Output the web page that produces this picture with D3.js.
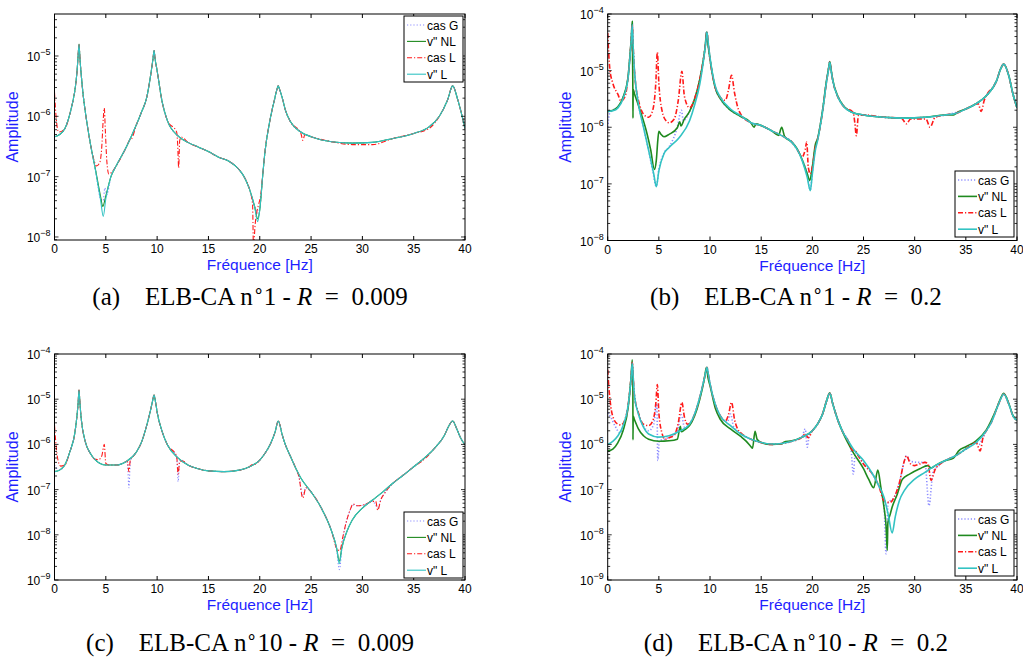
<!DOCTYPE html>
<html><head><meta charset="utf-8">
<script src="https://cdn.jsdelivr.net/npm/d3@7"></script>
<style>body{margin:0;background:#fff} svg{display:block}</style>
</head><body><svg id="chart" width="1023" height="657"></svg>
<script>
// ---------- DATA ----------
const seriesNames = ['cas G', 'v" NL', 'cas L', 'v" L'];
const xTickValues = [0, 5, 10, 15, 20, 25, 30, 35, 40];
const yTickExpA = [-8, -7, -6, -5];
const yTickExpB = [-8, -7, -6, -5, -4];
const yTickExpC = [-9, -8, -7, -6, -5, -4];
const yTickExpD = [-9, -8, -7, -6, -5, -4];
const captionTags = ['(a)', '(b)', '(c)', '(d)'];
const captionCase = ['1', '1', '10', '10'];
const captionR = ['0.009', '0.2', '0.009', '0.2'];
const xLabel = 'Fréquence [Hz]';
const yLabel = 'Amplitude';

// Panel (a)  ELB-CA n°1, R = 0.009   [frequency Hz, amplitude]
const a_vL = [[0,4.6e-7],[0.5,5.0e-7],[1,6.2e-7],[1.5,1.1e-6],[1.8,1.8e-6],[2,2.8e-6],[2.2,5.7e-6],[2.3,1.0e-5],[2.39,1.55e-5],[2.48,9e-6],[2.6,5.0e-6],[2.8,2.2e-6],[3,1.2e-6],[3.5,3.5e-7],[4,1.26e-7],[4.5,4.0e-8],[4.75,2.2e-8],[5,4.3e-8],[5.5,1.0e-7],[6,1.5e-7],[7,3.1e-7],[8,7.4e-7],[8.5,1.2e-6],[9,2.1e-6],[9.4,5.2e-6],[9.6,9.0e-6],[9.7,1.23e-5],[9.8,9.0e-6],[10,5.7e-6],[10.5,1.7e-6],[11,8.5e-7],[12,4.8e-7],[13,3.7e-7],[14,3.1e-7],[15,2.6e-7],[16,2.1e-7],[17,1.8e-7],[18,1.3e-7],[18.5,9.8e-8],[19,6.2e-8],[19.5,3.2e-8],[19.8,1.8e-8],[20,2.8e-8],[20.3,1.1e-7],[20.5,2.5e-7],[21,8.7e-7],[21.5,2.1e-6],[21.7,2.9e-6],[21.8,3.2e-6],[21.9,2.9e-6],[22.2,2.0e-6],[22.5,1.27e-6],[23,8.1e-7],[24,5.5e-7],[25,4.6e-7],[27,3.8e-7],[29,3.6e-7],[31,3.7e-7],[33,4.3e-7],[35,5.2e-7],[36.5,6.7e-7],[37.5,1.0e-6],[38.3,1.87e-6],[38.8,3.2e-6],[39.3,1.87e-6],[40,6.3e-7]];
const a_vNL = [[0,4.6e-7],[0.5,5.0e-7],[1,6.2e-7],[1.5,1.1e-6],[1.8,1.8e-6],[2,2.8e-6],[2.2,5.7e-6],[2.3,1.0e-5],[2.39,1.58e-5],[2.48,9e-6],[2.6,5.0e-6],[2.8,2.2e-6],[3,1.2e-6],[3.5,3.5e-7],[4,1.3e-7],[4.5,4.6e-8],[4.7,3.2e-8],[5,4.8e-8],[5.5,1.0e-7],[6,1.5e-7],[7,3.1e-7],[8,7.4e-7],[8.5,1.2e-6],[9,2.1e-6],[9.4,5.2e-6],[9.6,9.0e-6],[9.7,1.23e-5],[9.8,9.0e-6],[10,5.7e-6],[10.5,1.7e-6],[11,8.5e-7],[12,4.8e-7],[13,3.7e-7],[14,3.1e-7],[15,2.6e-7],[16,2.1e-7],[17,1.8e-7],[18,1.3e-7],[18.5,9.8e-8],[19,6.2e-8],[19.5,3.2e-8],[19.8,2.0e-8],[20,2.8e-8],[20.3,1.1e-7],[20.5,2.5e-7],[21,8.7e-7],[21.5,2.1e-6],[21.7,2.9e-6],[21.8,3.2e-6],[21.9,2.9e-6],[22.2,2.0e-6],[22.5,1.27e-6],[23,8.1e-7],[24,5.5e-7],[25,4.6e-7],[27,3.8e-7],[29,3.6e-7],[31,3.7e-7],[33,4.3e-7],[35,5.2e-7],[36.5,6.7e-7],[37.5,1.0e-6],[38.3,1.87e-6],[38.8,3.2e-6],[39.3,1.87e-6],[40,6.3e-7]];
const a_casG = [[0,4.6e-7],[0.5,5.0e-7],[1,6.2e-7],[1.5,1.1e-6],[1.8,1.8e-6],[2,2.8e-6],[2.2,5.7e-6],[2.3,1.0e-5],[2.39,1.55e-5],[2.48,9e-6],[2.6,5.0e-6],[2.8,2.2e-6],[3,1.2e-6],[3.5,3.5e-7],[4,1.26e-7],[4.5,4.2e-8],[4.75,4.0e-8],[4.9,6.5e-8],[5.1,5.0e-8],[5.5,1.0e-7],[6,1.5e-7],[7,3.1e-7],[8,7.4e-7],[8.5,1.2e-6],[9,2.1e-6],[9.4,5.2e-6],[9.6,9.0e-6],[9.7,1.23e-5],[9.8,9.0e-6],[10,5.7e-6],[10.5,1.7e-6],[11,8.5e-7],[12,4.8e-7],[13,3.7e-7],[14,3.1e-7],[15,2.6e-7],[16,2.1e-7],[17,1.8e-7],[18,1.3e-7],[18.5,9.8e-8],[19,6.2e-8],[19.5,3.2e-8],[19.8,2.5e-8],[20,3.0e-8],[20.3,1.1e-7],[20.5,2.5e-7],[21,8.7e-7],[21.5,2.1e-6],[21.7,2.9e-6],[21.8,3.2e-6],[21.9,2.9e-6],[22.2,2.0e-6],[22.5,1.27e-6],[23,8.1e-7],[24,5.5e-7],[25,4.6e-7],[27,3.8e-7],[29,3.6e-7],[31,3.7e-7],[33,4.3e-7],[35,5.2e-7],[36.5,6.7e-7],[37.5,1.0e-6],[38.3,1.87e-6],[38.8,3.2e-6],[39.3,1.87e-6],[40,6.3e-7]];
const a_casL = [[0,2.5e-6],[0.15,1.0e-6],[0.4,5.5e-7],[1,6.2e-7],[1.5,1.1e-6],[1.8,1.8e-6],[2,2.8e-6],[2.2,5.7e-6],[2.3,1.0e-5],[2.39,1.55e-5],[2.48,9e-6],[2.6,5.0e-6],[2.8,2.2e-6],[3,1.2e-6],[3.5,3.5e-7],[3.8,2.0e-7],[4.1,1.5e-7],[4.4,1.7e-7],[4.6,3.0e-7],[4.75,9e-7],[4.85,1.37e-6],[4.95,6e-7],[5.1,1.8e-7],[5.3,1.1e-7],[5.6,1.2e-7],[6,1.5e-7],[7,3.1e-7],[7.3,4.0e-7],[7.5,4.2e-7],[8,7.4e-7],[8.5,1.2e-6],[9,2.1e-6],[9.4,5.2e-6],[9.6,9.0e-6],[9.7,1.23e-5],[9.8,9.0e-6],[10,5.7e-6],[10.5,1.7e-6],[11,8.5e-7],[11.9,5.5e-7],[12,3.5e-7],[12.1,1.4e-7],[12.2,4.0e-7],[12.4,4.5e-7],[13,3.7e-7],[14,3.1e-7],[15,2.6e-7],[16,2.1e-7],[17,1.8e-7],[18,1.3e-7],[18.5,9.8e-8],[19,6.2e-8],[19.3,3.5e-8],[19.4,5e-9],[19.5,1.2e-8],[19.7,2.5e-8],[19.9,3.5e-8],[20.1,5e-8],[20.3,1.1e-7],[20.5,2.5e-7],[21,8.7e-7],[21.5,2.1e-6],[21.7,2.9e-6],[21.8,3.2e-6],[21.9,2.9e-6],[22.2,2.0e-6],[22.5,1.27e-6],[23,8.1e-7],[24,5.3e-7],[24.2,4.0e-7],[24.4,5.0e-7],[25,4.6e-7],[27,3.8e-7],[29,3.4e-7],[31,3.4e-7],[33,4.3e-7],[35,5.2e-7],[36.5,6.3e-7],[37.5,1.0e-6],[38.3,1.87e-6],[38.8,3.2e-6],[39.3,1.87e-6],[40,6.3e-7]];

// Panel (b)  ELB-CA n°1, R = 0.2
const b_vL = [[0,1.9e-6],[0.5,1.95e-6],[1,2.2e-6],[1.5,3.2e-6],[2,7.6e-6],[2.2,1.96e-5],[2.3,3.3e-5],[2.4,6.5e-5],[2.5,2.4e-5],[2.6,1.1e-5],[2.7,6.6e-6],[3,2.6e-6],[3.5,1.0e-6],[4,3.9e-7],[4.5,1.5e-7],[4.75,8.9e-8],[5,1.7e-7],[5.5,3.4e-7],[6,4.4e-7],[7,6.6e-7],[8,1.3e-6],[8.5,2.5e-6],[9,5.8e-6],[9.4,1.7e-5],[9.55,2.8e-5],[9.7,4.8e-5],[9.85,2.8e-5],[10,1.7e-5],[10.5,5.4e-6],[11,3.4e-6],[12,2.1e-6],[13,1.6e-6],[14,1.2e-6],[15,1.07e-6],[16,8.7e-7],[17,7.1e-7],[18,5.4e-7],[18.5,4.1e-7],[19,2.6e-7],[19.5,1.3e-7],[19.8,7.6e-8],[20,1.5e-7],[20.3,4.0e-7],[20.5,5.7e-7],[21,1.9e-6],[21.4,6.6e-6],[21.55,9.5e-6],[21.7,1.4e-5],[21.85,9.5e-6],[22,6.6e-6],[22.5,3.4e-6],[23,2.4e-6],[24,1.8e-6],[25,1.65e-6],[27,1.5e-6],[29,1.45e-6],[31,1.5e-6],[33,1.65e-6],[34,1.75e-6],[35,2.1e-6],[36,2.6e-6],[37,3.6e-6],[38,6.6e-6],[38.4,1.07e-5],[38.7,1.3e-5],[39.2,8.1e-6],[39.6,3.9e-6],[40,2.2e-6]];
const b_vNL = [[0,1.9e-6],[0.5,2.0e-6],[1,2.3e-6],[1.5,3.4e-6],[2,8.0e-6],[2.2,2.1e-5],[2.3,3.6e-5],[2.4,7.4e-5],[2.46,4.5e-6],[2.47,1.45e-6],[2.49,4.7e-6],[2.6,4.0e-6],[2.86,2.9e-6],[3.2,1.9e-6],[3.85,7.6e-7],[4.2,4.0e-7],[4.56,1.8e-7],[4.75,2.6e-7],[4.9,6.0e-7],[5,8.5e-7],[5.2,7.5e-7],[5.5,6.8e-7],[6,7.5e-7],[6.8,9.8e-7],[7.05,1.25e-6],[7.15,1.05e-6],[7.5,1.4e-6],[8,1.9e-6],[8.5,3.2e-6],[9,7.0e-6],[9.4,1.8e-5],[9.55,2.9e-5],[9.65,4.8e-5],[9.8,2.9e-5],[10,1.6e-5],[10.5,5.0e-6],[11,3.2e-6],[12,2.0e-6],[13,1.55e-6],[14,1.2e-6],[14.3,1.0e-6],[14.5,1.15e-6],[15,1.07e-6],[16,8.7e-7],[16.7,7.2e-7],[17,1.0e-6],[17.3,6.8e-7],[18,5.5e-7],[18.5,4.2e-7],[19,2.7e-7],[19.5,1.5e-7],[19.75,1.15e-7],[20,2.0e-7],[20.3,5.0e-7],[20.5,6.2e-7],[21,2.0e-6],[21.4,7.0e-6],[21.55,1.0e-5],[21.7,1.45e-5],[21.85,1.0e-5],[22,6.8e-6],[22.5,3.5e-6],[23,2.45e-6],[24,1.8e-6],[25,1.65e-6],[27,1.5e-6],[29,1.45e-6],[31,1.5e-6],[33,1.65e-6],[33.8,1.65e-6],[34.2,1.85e-6],[35,2.1e-6],[36,2.6e-6],[37,3.6e-6],[38,6.6e-6],[38.4,1.07e-5],[38.7,1.3e-5],[39.2,8.1e-6],[39.6,3.9e-6],[40,2.2e-6]];
const b_casG = [[0,1.0e-6],[0.2,1.8e-6],[0.5,2.0e-6],[1,2.3e-6],[1.5,3.4e-6],[2,8.0e-6],[2.2,2.1e-5],[2.3,3.6e-5],[2.4,7.0e-5],[2.5,2.4e-5],[2.6,1.1e-5],[2.7,6.6e-6],[3,2.6e-6],[3.5,1.0e-6],[4,3.9e-7],[4.4,1.7e-7],[4.75,9e-8],[5,1.8e-7],[5.5,3.5e-7],[6,4.5e-7],[6.8,1.0e-6],[7.2,2.0e-6],[7.4,1.3e-6],[8,1.9e-6],[8.5,3.2e-6],[9,7.0e-6],[9.4,1.8e-5],[9.55,2.9e-5],[9.65,4.8e-5],[9.8,2.9e-5],[10,1.6e-5],[10.5,5.0e-6],[11,3.2e-6],[12,2.0e-6],[13,1.55e-6],[14,1.2e-6],[15,1.07e-6],[16,8.7e-7],[17,7.1e-7],[18,5.5e-7],[18.5,4.2e-7],[19,2.7e-7],[19.5,1.5e-7],[19.8,7.8e-8],[20,1.6e-7],[20.3,4.5e-7],[20.5,6.0e-7],[21,2.0e-6],[21.4,7.0e-6],[21.55,1.0e-5],[21.7,1.45e-5],[21.85,1.0e-5],[22,6.8e-6],[22.5,3.5e-6],[23,2.45e-6],[24,1.8e-6],[25,1.65e-6],[27,1.5e-6],[29,1.45e-6],[31,1.5e-6],[33,1.65e-6],[35,2.1e-6],[36,2.6e-6],[37,3.6e-6],[38,6.6e-6],[38.4,1.07e-5],[38.7,1.3e-5],[39.2,8.1e-6],[39.6,3.9e-6],[40,2.2e-6]];
const b_casL = [[0,4.6e-5],[0.2,1.1e-5],[0.5,6.0e-6],[1,3.8e-6],[1.3,2.9e-6],[1.7,3.5e-6],[2,8.0e-6],[2.2,2.0e-5],[2.3,3.4e-5],[2.4,6.5e-5],[2.5,2.4e-5],[2.6,1.1e-5],[2.8,4.5e-6],[3,3.0e-6],[3.5,1.7e-6],[4,1.5e-6],[4.4,2.0e-6],[4.7,6.0e-6],[4.85,2.1e-5],[5,6.0e-6],[5.3,2.0e-6],[5.7,1.3e-6],[6,1.2e-6],[6.5,1.4e-6],[6.9,3.0e-6],[7.25,9.7e-6],[7.5,3.5e-6],[8,2.2e-6],[8.5,3.2e-6],[9,7.0e-6],[9.4,1.8e-5],[9.55,2.9e-5],[9.7,4.8e-5],[9.85,2.8e-5],[10,1.6e-5],[10.5,5.2e-6],[11,3.4e-6],[11.5,3.0e-6],[11.8,4.5e-6],[12.1,8.3e-6],[12.4,4.0e-6],[12.8,2.0e-6],[13,1.7e-6],[14,1.2e-6],[15,1.07e-6],[16,8.7e-7],[17,7.1e-7],[18,5.4e-7],[18.5,4.1e-7],[19,3.0e-7],[19.3,4.0e-7],[19.45,5.5e-7],[19.6,2.0e-7],[19.8,1.5e-7],[20,2.0e-7],[20.3,4.5e-7],[20.5,6.0e-7],[21,1.9e-6],[21.4,6.6e-6],[21.55,9.5e-6],[21.7,1.4e-5],[21.85,9.5e-6],[22,6.6e-6],[22.5,3.4e-6],[23,2.4e-6],[24,1.8e-6],[24.15,1.2e-6],[24.3,7.1e-7],[24.5,1.6e-6],[25,1.65e-6],[27,1.5e-6],[28.7,1.45e-6],[29.2,1.15e-6],[29.6,1.4e-6],[30.5,1.4e-6],[31.1,1.4e-6],[31.5,1.0e-6],[32,1.5e-6],[33,1.65e-6],[34,1.75e-6],[35,2.1e-6],[36.2,2.6e-6],[36.5,1.9e-6],[36.8,3.0e-6],[37,3.6e-6],[38,6.6e-6],[38.4,1.07e-5],[38.7,1.3e-5],[39.2,8.1e-6],[39.6,3.9e-6],[40,2.2e-6]];

// Panel (c)  ELB-CA n°10, R = 0.009
const c_vL = [[0,2.5e-7],[0.5,2.7e-7],[1,3.5e-7],[1.5,6.9e-7],[2,1.9e-6],[2.2,4.5e-6],[2.3,8.0e-6],[2.39,1.6e-5],[2.48,8.0e-6],[2.6,3.8e-6],[3,1.15e-6],[3.5,6.3e-7],[4,4.5e-7],[5,3.5e-7],[6,3.5e-7],[7,4.2e-7],[8,6.9e-7],[8.5,1.15e-6],[9,2.7e-6],[9.4,6.3e-6],[9.55,9.0e-6],[9.7,1.23e-5],[9.85,8.5e-6],[10,5.2e-6],[10.5,1.9e-6],[11,9.8e-7],[12,5.1e-7],[13,3.5e-7],[14,2.9e-7],[15,2.6e-7],[16.5,2.5e-7],[18,2.7e-7],[19,3.2e-7],[20,4.5e-7],[20.5,6.3e-7],[21,9.8e-7],[21.5,1.9e-6],[21.8,3.3e-6],[22.2,1.6e-6],[22.5,9.8e-7],[23,5.4e-7],[23.5,3.0e-7],[24,1.8e-7],[25,8.9e-8],[26,3.9e-8],[27,1.2e-8],[27.5,5.0e-9],[27.75,2.3e-9],[28,5.0e-9],[28.5,1.2e-8],[29,2.1e-8],[30,3.9e-8],[31,5.9e-8],[32,8.9e-8],[33,1.4e-7],[34,2.1e-7],[35,3.2e-7],[36,4.9e-7],[37,8.1e-7],[38,1.6e-6],[38.4,2.5e-6],[38.8,3.3e-6],[39.2,2.2e-6],[39.6,1.35e-6],[40,9.8e-7]];
const c_vNL = [[0,2.5e-7],[0.5,2.7e-7],[1,3.5e-7],[1.5,6.9e-7],[2,1.9e-6],[2.2,4.5e-6],[2.3,8.0e-6],[2.39,1.6e-5],[2.48,8.0e-6],[2.6,3.8e-6],[3,1.15e-6],[3.5,6.3e-7],[4,4.5e-7],[5,3.5e-7],[6,3.5e-7],[7,4.2e-7],[8,6.9e-7],[8.5,1.15e-6],[9,2.7e-6],[9.4,6.3e-6],[9.55,9.0e-6],[9.7,1.23e-5],[9.85,8.5e-6],[10,5.2e-6],[10.5,1.9e-6],[11,9.8e-7],[12,5.1e-7],[13,3.5e-7],[14,2.9e-7],[15,2.6e-7],[16.5,2.5e-7],[18,2.7e-7],[19,3.2e-7],[20,4.5e-7],[20.5,6.3e-7],[21,9.8e-7],[21.5,1.9e-6],[21.8,3.3e-6],[22.2,1.6e-6],[22.5,9.8e-7],[23,5.4e-7],[23.5,3.0e-7],[24,1.8e-7],[25,8.9e-8],[26,3.9e-8],[27,1.2e-8],[27.5,5.0e-9],[27.75,2.6e-9],[28,5.2e-9],[28.5,1.2e-8],[29,2.1e-8],[30,3.9e-8],[31,5.9e-8],[32,8.9e-8],[33,1.4e-7],[34,2.1e-7],[35,3.2e-7],[36,4.9e-7],[37,8.1e-7],[38,1.6e-6],[38.4,2.5e-6],[38.8,3.3e-6],[39.2,2.2e-6],[39.6,1.35e-6],[40,9.8e-7]];
const c_casG = [[0,3.5e-7],[0.2,3.0e-7],[0.5,2.7e-7],[1,3.5e-7],[1.5,6.9e-7],[2,1.9e-6],[2.2,4.5e-6],[2.3,8.0e-6],[2.39,1.6e-5],[2.48,8.0e-6],[2.6,3.8e-6],[3,1.15e-6],[3.5,6.3e-7],[4,4.5e-7],[5,3.5e-7],[6,3.5e-7],[7.1,4.1e-7],[7.25,1.1e-7],[7.4,4.3e-7],[8,6.9e-7],[8.5,1.15e-6],[9,2.7e-6],[9.4,6.3e-6],[9.55,9.0e-6],[9.7,1.23e-5],[9.85,8.5e-6],[10,5.2e-6],[10.5,1.9e-6],[11,9.8e-7],[11.9,5.3e-7],[12.05,1.5e-7],[12.2,4.6e-7],[13,3.5e-7],[14,2.9e-7],[15,2.6e-7],[16.5,2.5e-7],[18,2.7e-7],[19,3.2e-7],[20,4.5e-7],[20.5,6.3e-7],[21,9.8e-7],[21.5,1.9e-6],[21.8,3.3e-6],[22.2,1.6e-6],[22.5,9.8e-7],[23,5.4e-7],[23.5,3.0e-7],[23.8,2.0e-7],[24.2,7.5e-8],[24.5,1.1e-7],[25,8.9e-8],[26,3.9e-8],[27,1.2e-8],[27.5,4.5e-9],[27.75,1.7e-9],[28.1,8.0e-9],[28.4,1.8e-8],[28.8,3.5e-8],[29.1,4.6e-8],[29.5,4.4e-8],[30,4.5e-8],[30.5,5.0e-8],[31,5.5e-8],[31.5,4.0e-8],[31.8,6.0e-8],[32.2,8.5e-8],[33,1.4e-7],[34,2.1e-7],[35,3.2e-7],[36,4.9e-7],[37,8.1e-7],[38,1.6e-6],[38.4,2.5e-6],[38.8,3.3e-6],[39.2,2.2e-6],[39.6,1.35e-6],[40,9.8e-7]];
const c_casL = [[0,2.7e-6],[0.1,1.3e-6],[0.3,5.0e-7],[0.6,3.3e-7],[1,3.5e-7],[1.5,6.9e-7],[2,1.9e-6],[2.2,4.5e-6],[2.3,8.0e-6],[2.39,1.6e-5],[2.48,8.0e-6],[2.6,3.8e-6],[3,1.15e-6],[3.5,6.3e-7],[3.8,4.9e-7],[4.3,4.6e-7],[4.6,5.5e-7],[4.85,1.0e-6],[5,3.8e-7],[5.3,3.5e-7],[6,3.5e-7],[7,4.2e-7],[7.1,4.3e-7],[7.25,2.5e-7],[7.4,4.7e-7],[7.6,5.2e-7],[8,6.9e-7],[8.5,1.15e-6],[9,2.7e-6],[9.4,6.3e-6],[9.55,9.0e-6],[9.7,1.23e-5],[9.85,8.5e-6],[10,5.2e-6],[10.5,1.9e-6],[11,9.8e-7],[11.9,5.5e-7],[12.05,2.2e-7],[12.2,4.2e-7],[12.5,4.3e-7],[13,3.5e-7],[14,2.9e-7],[15,2.6e-7],[16.5,2.5e-7],[18,2.7e-7],[19,3.2e-7],[19.3,3.6e-7],[19.5,3.6e-7],[20,4.5e-7],[20.5,6.3e-7],[21,9.8e-7],[21.5,1.9e-6],[21.8,3.3e-6],[22.2,1.6e-6],[22.5,9.8e-7],[23,5.4e-7],[23.5,3.0e-7],[23.8,2.0e-7],[24.2,6.5e-8],[24.5,1.1e-7],[24.8,1.0e-7],[25,8.9e-8],[26,3.9e-8],[27,1.2e-8],[27.5,5.0e-9],[27.8,4.5e-9],[28.1,9.0e-9],[28.4,1.8e-8],[28.8,3.5e-8],[29.1,4.8e-8],[29.5,4.4e-8],[30,4.5e-8],[30.5,5.0e-8],[31,5.5e-8],[31.3,5.5e-8],[31.5,3.5e-8],[31.8,6.0e-8],[32.2,8.5e-8],[33,1.4e-7],[34,2.1e-7],[35,3.2e-7],[36,4.6e-7],[37,8.1e-7],[38,1.6e-6],[38.4,2.5e-6],[38.8,3.3e-6],[39.2,2.2e-6],[39.6,1.35e-6],[40,9.8e-7]];

// Panel (d)  ELB-CA n°10, R = 0.2
const d_vL = [[0,1.0e-6],[0.5,1.17e-6],[1,1.55e-6],[1.5,2.6e-6],[2,7.2e-6],[2.2,1.8e-5],[2.3,3.2e-5],[2.4,6.3e-5],[2.5,2.8e-5],[2.6,1.3e-5],[3,4.7e-6],[3.5,2.4e-6],[4,1.7e-6],[5,1.45e-6],[6,1.55e-6],[7,1.95e-6],[8,2.8e-6],[8.5,4.7e-6],[9,1.1e-5],[9.4,2.6e-5],[9.55,3.7e-5],[9.7,5.1e-5],[9.85,3.4e-5],[10,2.2e-5],[10.5,7.8e-6],[11,4.3e-6],[12,2.6e-6],[13,1.7e-6],[14,1.3e-6],[15,1.1e-6],[16,1.02e-6],[17,1.05e-6],[18,1.17e-6],[19,1.45e-6],[20,2.0e-6],[20.5,2.8e-6],[21,4.7e-6],[21.4,9.3e-6],[21.7,1.35e-5],[22,7.8e-6],[22.5,3.4e-6],[23,1.85e-6],[23.5,1.2e-6],[24,7.9e-7],[25,4.4e-7],[26,2.0e-7],[26.5,1.2e-7],[27,6.8e-8],[27.4,2.9e-8],[27.8,1.1e-8],[28.1,2.5e-8],[28.5,5.7e-8],[29,9.6e-8],[30,1.7e-7],[31,2.4e-7],[32,3.4e-7],[33,4.4e-7],[34,5.6e-7],[35,7.9e-7],[36,1.1e-6],[37,2.0e-6],[37.5,3.1e-6],[38,6.0e-6],[38.4,1.0e-5],[38.7,1.3e-5],[39.2,7.8e-6],[39.6,4.3e-6],[40,3.4e-6]];
const d_vNL = [[0,7.1e-7],[0.5,7.9e-7],[1,1.1e-6],[1.5,2.0e-6],[2,6.6e-6],[2.2,1.8e-5],[2.3,3.4e-5],[2.4,7.4e-5],[2.46,2.0e-5],[2.47,1.26e-6],[2.49,4.3e-6],[2.6,3.6e-6],[2.8,2.8e-6],[3,2.2e-6],[3.5,1.55e-6],[4,1.3e-6],[5,1.17e-6],[6,1.2e-6],[6.8,1.3e-6],[7.1,2.5e-6],[7.2,1.9e-6],[7.5,2.1e-6],[8,2.6e-6],[8.5,4.3e-6],[9,1.0e-5],[9.4,2.5e-5],[9.5,3.4e-5],[9.65,5.0e-5],[9.8,3.0e-5],[10,2.0e-5],[10.5,6.5e-6],[11,3.6e-6],[12,2.2e-6],[13,1.5e-6],[13.5,1.2e-6],[14,8.9e-7],[14.15,8.2e-7],[14.4,1.95e-6],[14.6,1.3e-6],[15,1.1e-6],[16,1.0e-6],[17,1.02e-6],[17.2,1.12e-6],[18,1.2e-6],[19,1.45e-6],[20,2.0e-6],[20.5,2.8e-6],[21,4.7e-6],[21.4,9.3e-6],[21.7,1.38e-5],[22,7.8e-6],[22.5,3.4e-6],[23,1.8e-6],[24,6.6e-7],[25,2.9e-7],[25.5,1.7e-7],[26,1.1e-7],[26.4,2.7e-7],[26.7,1.1e-7],[27,4.1e-8],[27.2,1.6e-8],[27.32,4.5e-9],[27.38,1.8e-8],[27.6,2.8e-8],[27.8,4.1e-8],[28.3,7.9e-8],[28.8,1.7e-7],[29.5,2.2e-7],[30.5,2.9e-7],[31.3,3.4e-7],[31.6,3.0e-7],[32,3.4e-7],[33,4.4e-7],[33.8,5.0e-7],[34.3,7.2e-7],[35,8.9e-7],[36,1.2e-6],[37,2.1e-6],[38,6.2e-6],[38.4,1.05e-5],[38.7,1.35e-5],[39.2,8.0e-6],[39.6,4.4e-6],[40,3.4e-6]];
const d_casG = [[0,5.0e-6],[0.3,4.0e-6],[0.7,2.6e-6],[1.2,1.8e-6],[1.6,2.6e-6],[2,7.2e-6],[2.2,1.8e-5],[2.3,3.2e-5],[2.4,6.3e-5],[2.5,2.8e-5],[2.6,1.3e-5],[3,4.8e-6],[3.5,2.5e-6],[4,2.0e-6],[4.5,2.8e-6],[4.8,8.0e-6],[4.9,4.4e-7],[5.05,1.2e-6],[5.5,1.3e-6],[6,1.45e-6],[6.8,2.0e-6],[7.2,4.5e-6],[7.5,2.4e-6],[8,2.8e-6],[8.5,4.7e-6],[9,1.1e-5],[9.4,2.6e-5],[9.55,3.7e-5],[9.7,5.1e-5],[9.85,3.4e-5],[10,2.2e-5],[10.5,7.8e-6],[11,4.3e-6],[11.7,3.2e-6],[12,4.7e-6],[12.3,2.5e-6],[13,1.7e-6],[14,1.3e-6],[15,1.1e-6],[16,1.0e-6],[17,1.05e-6],[18,1.17e-6],[19,1.5e-6],[19.3,2.2e-6],[19.5,8.7e-7],[19.7,1.6e-6],[20,2.0e-6],[20.5,2.8e-6],[21,4.7e-6],[21.4,9.3e-6],[21.7,1.35e-5],[22,7.8e-6],[22.5,3.4e-6],[23,1.85e-6],[23.5,1.2e-6],[23.8,7.0e-7],[24,2.2e-7],[24.2,6.5e-7],[25,3.7e-7],[26,2.0e-7],[26.5,1.2e-7],[27,5.0e-8],[27.2,3.8e-9],[27.4,5.0e-8],[28,6.8e-8],[28.5,1.4e-7],[29,4.4e-7],[29.2,5.6e-7],[29.6,4.2e-7],[30.5,4.0e-7],[31,4.0e-7],[31.4,4.4e-8],[31.8,2.5e-7],[32.3,3.3e-7],[33,4.4e-7],[34,5.6e-7],[35,7.9e-7],[36,1.1e-6],[36.3,1.0e-6],[36.6,1.3e-6],[37,2.0e-6],[37.5,3.1e-6],[38,6.0e-6],[38.4,1.0e-5],[38.7,1.3e-5],[39.2,7.8e-6],[39.6,4.3e-6],[40,3.4e-6]];
const d_casL = [[0,4.5e-5],[0.1,2.0e-5],[0.3,7.0e-6],[0.6,3.6e-6],[1,2.8e-6],[1.3,2.7e-6],[1.7,3.6e-6],[2,7.5e-6],[2.2,1.9e-5],[2.3,3.3e-5],[2.4,6.5e-5],[2.5,2.9e-5],[2.6,1.3e-5],[3,5.0e-6],[3.5,2.8e-6],[4,2.6e-6],[4.4,3.3e-6],[4.7,8.0e-6],[4.85,2.1e-5],[5,5.0e-6],[5.3,1.8e-6],[5.6,1.3e-6],[6,1.4e-6],[6.5,1.6e-6],[6.9,3.0e-6],[7.25,8.5e-6],[7.5,4.0e-6],[7.8,2.8e-6],[8.2,3.3e-6],[8.5,4.7e-6],[9,1.1e-5],[9.4,2.6e-5],[9.55,3.7e-5],[9.7,5.1e-5],[9.85,3.4e-5],[10,2.2e-5],[10.5,7.8e-6],[11,4.3e-6],[11.5,3.3e-6],[11.8,4.5e-6],[12.1,8.5e-6],[12.4,3.5e-6],[12.8,2.0e-6],[13,1.8e-6],[14,1.3e-6],[15,1.1e-6],[16,1.0e-6],[17,1.05e-6],[18,1.17e-6],[19,1.45e-6],[19.3,1.7e-6],[19.6,1.4e-6],[20,2.0e-6],[20.5,2.8e-6],[21,4.7e-6],[21.4,9.3e-6],[21.7,1.35e-5],[22,7.8e-6],[22.5,3.4e-6],[23,1.85e-6],[23.5,1.2e-6],[23.9,7.5e-7],[24.2,7.2e-7],[24.5,5.5e-7],[25,3.7e-7],[26,2.0e-7],[26.5,1.2e-7],[27,5.7e-8],[27.6,5.2e-8],[28,6.8e-8],[28.5,1.4e-7],[29,4.4e-7],[29.2,5.6e-7],[29.6,3.7e-7],[30,3.4e-7],[30.5,3.7e-7],[31,4.0e-7],[31.3,3.7e-7],[31.6,1.6e-7],[32,2.8e-7],[32.5,3.7e-7],[33,4.4e-7],[34,5.6e-7],[35,7.9e-7],[36,1.1e-6],[36.4,7.2e-7],[36.7,1.5e-6],[37,2.0e-6],[37.5,3.1e-6],[38,6.0e-6],[38.4,1.0e-5],[38.7,1.3e-5],[39.2,7.8e-6],[39.6,4.3e-6],[40,3.4e-6]];

// ---------- STYLE / LAYOUT ----------
const colors = ['#8c8cff', '#1f8a1f', '#ff1a1a', '#33c3c3'];
const dashes = ['1.2,2', null, '5,2,1.2,2', null];
const panels = [
  {series:[a_casG,a_vNL,a_casL,a_vL], yExp:yTickExpA, yDom:[10**-8.05, 10**-4.304], box:[54.5,14,465,240], lw:1.1, legend:[404,16], cap:[250,305]},
  {series:[b_casG,b_vNL,b_casL,b_vL], yExp:yTickExpB, yDom:[1e-8, 1e-4], box:[607.7,14,1017,240.5], lw:1.6, legend:[955,171], cap:[796,305]},
  {series:[c_casG,c_vNL,c_casL,c_vL], yExp:yTickExpC, yDom:[1e-9, 1e-4], box:[54.5,354,465,580], lw:1.1, legend:[404,512], cap:[250,651]},
  {series:[d_casG,d_vNL,d_casL,d_vL], yExp:yTickExpD, yDom:[1e-9, 1e-4], box:[607.7,354,1017,580], lw:1.6, legend:[955,510], cap:[796,651]}
];

const svg = d3.select('#chart');
const sans = "'Liberation Sans', Arial, Helvetica, sans-serif";
const serif = "'Liberation Serif', 'Times New Roman', serif";

panels.forEach((p, i) => {
  const [L, T, R, B] = p.box;
  const x = d3.scaleLinear().domain([0, 40]).range([L, R]);
  const y = d3.scaleLog().domain(p.yDom).range([B, T]);
  const g = svg.append('g');
  const clipId = 'clip' + i;
  svg.append('defs').append('clipPath').attr('id', clipId)
    .append('rect').attr('x', L).attr('y', T).attr('width', R - L).attr('height', B - T);

  // lines
  const line = d3.line().x(d => x(d[0])).y(d => y(d[1])).curve(d3.curveMonotoneX);
  const lg = g.append('g').attr('clip-path', `url(#${clipId})`);
  p.series.forEach((s, k) => {
    lg.append('path').attr('d', line(s)).attr('fill', 'none')
      .attr('stroke', colors[k]).attr('stroke-width', p.lw)
      .attr('stroke-dasharray', dashes[k]).attr('stroke-linejoin', 'round');
  });

  // box
  g.append('rect').attr('x', L).attr('y', T).attr('width', R - L).attr('height', B - T)
    .attr('fill', 'none').attr('stroke', '#000').attr('stroke-width', 1);

  // x ticks (bottom & top, inward)
  xTickValues.forEach(v => {
    const px = x(v);
    g.append('line').attr('x1', px).attr('x2', px).attr('y1', B).attr('y2', B - 4).attr('stroke', '#000');
    g.append('line').attr('x1', px).attr('x2', px).attr('y1', T).attr('y2', T + 4).attr('stroke', '#000');
    g.append('text').attr('x', px).attr('y', B + 13).attr('text-anchor', 'middle')
      .attr('font-family', sans).attr('font-size', 12).text(v);
  });

  // y ticks major + minor
  const [e0, e1] = [Math.floor(Math.log10(p.yDom[0])), Math.ceil(Math.log10(p.yDom[1]))];
  for (let e = e0; e <= e1; e++) {
    for (let m = 1; m <= 9; m++) {
      const v = m * 10 ** e;
      if (v < p.yDom[0] * 0.999 || v > p.yDom[1] * 1.001) continue;
      const py = y(v);
      const len = m === 1 ? 4 : 2.5;
      g.append('line').attr('x1', L).attr('x2', L + len).attr('y1', py).attr('y2', py).attr('stroke', '#000').attr('stroke-width', 0.8);
      g.append('line').attr('x1', R).attr('x2', R - len).attr('y1', py).attr('y2', py).attr('stroke', '#000').attr('stroke-width', 0.8);
    }
  }
  p.yExp.forEach(e => {
    const py = y(10 ** e);
    const t = g.append('text').attr('x', L - 4).attr('y', py + 5).attr('text-anchor', 'end')
      .attr('font-family', sans).attr('font-size', 12);
    t.append('tspan').text('10');
    t.append('tspan').attr('dy', -6).attr('font-size', 9).text('\u2212' + Math.abs(e));
  });

  // axis labels
  g.append('text').attr('x', (L + R) / 2).attr('y', B + 30).attr('text-anchor', 'middle')
    .attr('font-family', sans).attr('font-size', 15.5).attr('fill', '#1f1fff').text(xLabel);
  const yc = (T + B) / 2;
  const ylx = L - 37;
  g.append('text').attr('transform', `translate(${ylx},${yc}) rotate(-90)`).attr('text-anchor', 'middle')
    .attr('font-family', sans).attr('font-size', 16).attr('fill', '#1f1fff').text(yLabel);

  // legend
  const [lx, ly] = p.legend;
  const lgd = g.append('g');
  lgd.append('rect').attr('x', lx).attr('y', ly).attr('width', 59).attr('height', 66)
    .attr('fill', '#fff').attr('stroke', '#000').attr('stroke-width', 1);
  seriesNames.forEach((n, k) => {
    const cy = ly + 9 + k * 16.4;
    lgd.append('line').attr('x1', lx + 3).attr('x2', lx + 22).attr('y1', cy).attr('y2', cy)
      .attr('stroke', colors[k]).attr('stroke-width', p.lw).attr('stroke-dasharray', dashes[k]);
    lgd.append('text').attr('x', lx + 23).attr('y', cy + 4.5).attr('font-family', sans)
      .attr('font-size', 12).text(n);
  });

  // caption
  const [cx, cy] = p.cap;
  const ct = svg.append('text').attr('x', cx).attr('y', cy).attr('text-anchor', 'middle')
    .attr('font-family', serif).attr('font-size', 25).attr('xml:space', 'preserve');
  ct.append('tspan').text(captionTags[i] + '\u2003ELB-CA n');
  ct.append('tspan').attr('dy', -9).attr('font-size', 18).text('\u2218');
  ct.append('tspan').attr('dy', 9).text(captionCase[i] + ' - ');
  ct.append('tspan').attr('font-style', 'italic').text('R');
  ct.append('tspan').text('\u2002=\u2002' + captionR[i]);
});
</script>
</body></html>
